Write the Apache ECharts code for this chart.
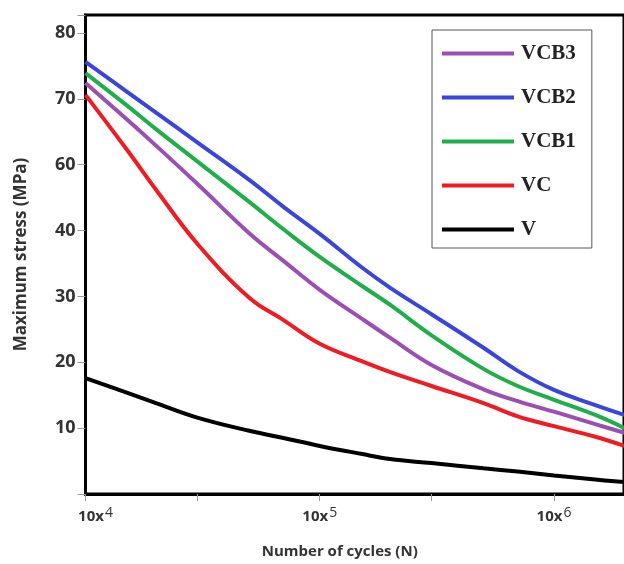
<!DOCTYPE html>
<html>
<head>
<meta charset="utf-8">
<script src="https://cdn.jsdelivr.net/npm/echarts@6/dist/echarts.min.js"></script>
<style>
  html, body { margin: 0; padding: 0; background: #fff; }
  #chart { width: 624px; height: 564px; }
</style>
</head>
<body>
<div id="chart"></div>
<script>
// 循环次数 (N)
var cycles = [1e4, 1.5e4, 2e4, 3e4, 5e4, 7e4, 1e5, 1.5e5, 2e5, 3e5, 5e5, 7e5, 1e6, 1.5e6, 2e6];
// 最大应力 (MPa)
var vcb3 = [72.4, 66.9, 62.9, 54.2, 39.6, 35.4, 31.0, 26.7, 23.7, 19.6, 15.9, 14.1, 12.5, 10.6, 9.3];
var vcb2 = [75.6, 71.1, 67.9, 63.4, 55.4, 47.2, 39.5, 34.5, 31.3, 27.3, 22.2, 18.7, 15.8, 13.5, 12.0];
var vcb1 = [73.9, 69.0, 65.4, 60.5, 48.7, 40.4, 36.0, 31.7, 28.7, 24.1, 19.0, 16.4, 14.3, 12.0, 10.0];
var vc   = [70.6, 62.3, 52.4, 38.0, 29.8, 26.4, 22.8, 20.2, 18.5, 16.4, 13.8, 11.8, 10.3, 8.7, 7.3];
var v    = [17.6, 15.4, 13.8, 11.6, 9.6, 8.5, 7.3, 6.1, 5.3, 4.7, 3.9, 3.4, 2.8, 2.2, 1.8];

// y 轴刻度标签 (原图 40 与 60 之间没有 50)
var yTickLabels = ['', '10', '20', '30', '40', '60', '70', '80'];
var xTickValues = [1e4, 3e4, 1e5, 3e5, 1e6];
var xLabelValues = [1e4, 1e5, 1e6];

/**
 * 把应力值换算成 y 轴上的刻度位置
 */
function toAxis(val) {
    if (val <= 40) return val / 10;
    if (val >= 60) return (val - 10) / 10;
    return 4 + (val - 40) / 20;
}

function makeSeries(name, values, color) {
    return {
        name: name,
        type: 'line',
        smooth: 0.4,
        showSymbol: false,
        symbol: 'none',
        lineStyle: { width: 4, color: color },
        itemStyle: { color: color },
        data: cycles.map(function (c, i) { return [c, toAxis(values[i])]; })
    };
}

var myChart = echarts.init(document.getElementById('chart'));
myChart.setOption({
    animation: false,
    grid: {
        left: 85.5,
        top: 15,
        right: -2,
        bottom: 70,
        show: true,
        borderColor: '#000',
        borderWidth: 3
    },
    legend: {
        orient: 'vertical',
        left: 432,
        top: 30,
        icon: 'rect',
        itemWidth: 72,
        itemHeight: 4,
        itemGap: 23,
        padding: [13, 16, 8, 10],
        borderColor: '#555',
        borderWidth: 1,
        textStyle: {
            fontFamily: 'Liberation Serif',
            fontWeight: 'bold',
            fontSize: 21,
            color: '#222',
            padding: [0, 0, 0, 2]
        },
        data: ['VCB3', 'VCB2', 'VCB1', 'VC', 'V']
    },
    xAxis: {
        type: 'log',
        logBase: 10,
        min: 1e4,
        max: 1.99e6,
        name: 'Number of cycles (N)',
        nameLocation: 'middle',
        nameGap: 50,
        nameTextStyle: {
            fontFamily: 'Open Sans',
            fontWeight: 'bold',
            fontSize: 15,
            color: '#333',
            padding: [0, 30, 0, 0]
        },
        axisLine: { lineStyle: { color: '#000', width: 3 } },
        axisTick: {
            customValues: xTickValues,
            length: 7,
            lineStyle: { color: '#999', width: 1 }
        },
        axisLabel: {
            customValues: xLabelValues,
            margin: 12,
            formatter: function (val) {
                var p = Math.round(Math.log10(val));
                return (p === 4 ? '{f|10x}' : '{a|10x}') + '{s|' + p + '}';
            },
            rich: {
                a: { fontFamily: 'Open Sans', fontWeight: 'bold', fontSize: 15, color: '#333' },
                f: { fontFamily: 'Open Sans', fontWeight: 'bold', fontSize: 15, color: '#333', padding: [0, 0, 0, 20] },
                s: { fontFamily: 'Open Sans', fontSize: 14, color: '#333', verticalAlign: 'bottom', padding: [0, 0, 8, 1] }
            }
        },
        splitLine: { show: false }
    },
    yAxis: {
        type: 'value',
        min: 0,
        max: 7.273,
        interval: 1,
        name: 'Maximum stress (MPa)',
        nameLocation: 'middle',
        nameGap: 56,
        nameTextStyle: {
            fontFamily: 'Open Sans',
            fontWeight: 'bold',
            fontSize: 17,
            color: '#333'
        },
        axisLine: { show: true, lineStyle: { color: '#000', width: 3 } },
        axisTick: { show: true, length: 8, lineStyle: { color: '#999', width: 1 } },
        axisLabel: {
            margin: 10,
            fontFamily: 'Open Sans',
            fontWeight: 'bold',
            fontSize: 18,
            color: '#333',
            formatter: function (val) {
                var i = Math.round(val);
                return Math.abs(val - i) < 1e-6 && yTickLabels[i] !== undefined ? yTickLabels[i] : '';
            }
        },
        splitLine: { show: false }
    },
    series: [
        makeSeries('VCB3', vcb3, '#9b4fb3'),
        makeSeries('VCB2', vcb2, '#3b46d6'),
        makeSeries('VCB1', vcb1, '#22ad4b'),
        makeSeries('VC', vc, '#ee1c25'),
        makeSeries('V', v, '#000000')
    ]
});
</script>
</body>
</html>
